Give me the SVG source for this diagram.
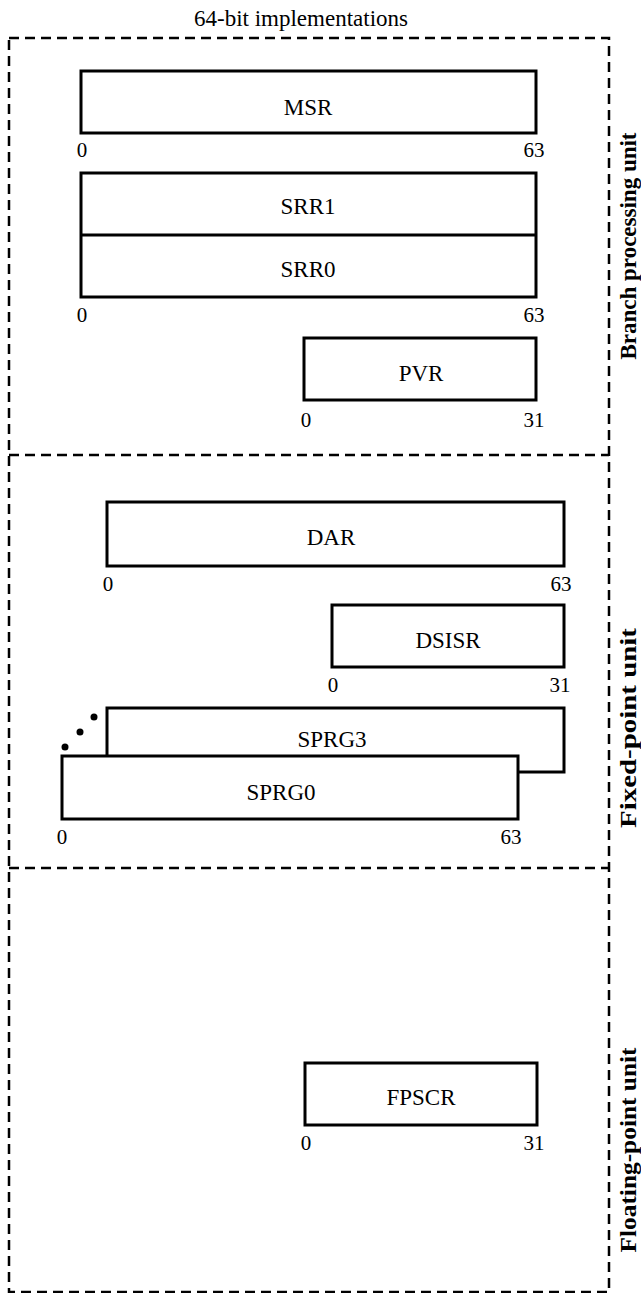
<svg xmlns="http://www.w3.org/2000/svg" width="641" height="1293" viewBox="0 0 641 1293">
<style>
.frame{fill:none;stroke:#000;stroke-width:2.5;stroke-dasharray:10 6}
.reg{fill:#fff;stroke:#000;stroke-width:3}
.name{font-family:"Liberation Serif",serif;font-size:23px;text-anchor:middle;fill:#000}
.bit{font-family:"Liberation Serif",serif;font-size:21px;text-anchor:middle;fill:#000}
.unit{font-family:"Liberation Serif",serif;font-size:23px;font-weight:bold;text-anchor:middle;fill:#000}
.title{font-family:"Liberation Serif",serif;font-size:23px;text-anchor:middle;fill:#000}
</style>
<rect width="641" height="1293" fill="#fff"/>
<text class="title" x="301" y="26">64-bit implementations</text>
<g id="frames">
<rect class="frame" x="9" y="38" width="600" height="1254"/>
<line class="frame" x1="9" y1="455" x2="609" y2="455"/>
<line class="frame" x1="9" y1="868" x2="609" y2="868"/>
</g>
<g id="unit-labels">
<text class="unit" transform="translate(636,246) rotate(-90)">Branch processing unit</text>
<text class="unit" transform="translate(636,728) rotate(-90)" textLength="200" lengthAdjust="spacingAndGlyphs">Fixed-point unit</text>
<text class="unit" transform="translate(636,1150) rotate(-90)" textLength="205" lengthAdjust="spacingAndGlyphs">Floating-point unit</text>
</g>
<g id="MSR">
<rect class="reg" x="81" y="71" width="455" height="62"/>
<text class="name" x="308" y="115">MSR</text>
<text class="bit" x="82" y="157">0</text>
<text class="bit" x="534" y="157">63</text>
</g>
<g id="SRR">
<rect class="reg" x="81" y="173" width="455" height="124"/>
<line x1="81" y1="235" x2="536" y2="235" stroke="#000" stroke-width="3"/>
<text class="name" x="308" y="214">SRR1</text>
<text class="name" x="308" y="277">SRR0</text>
<text class="bit" x="82" y="322">0</text>
<text class="bit" x="534" y="322">63</text>
</g>
<g id="PVR">
<rect class="reg" x="304" y="338" width="232" height="62"/>
<text class="name" x="421" y="381">PVR</text>
<text class="bit" x="306" y="427">0</text>
<text class="bit" x="534" y="427">31</text>
</g>
<g id="DAR">
<rect class="reg" x="107" y="502" width="457" height="64"/>
<text class="name" x="331" y="545">DAR</text>
<text class="bit" x="108" y="591">0</text>
<text class="bit" x="561" y="591">63</text>
</g>
<g id="DSISR">
<rect class="reg" x="332" y="605" width="232" height="62"/>
<text class="name" x="448" y="648">DSISR</text>
<text class="bit" x="333" y="692">0</text>
<text class="bit" x="560" y="692">31</text>
</g>
<g id="SPRG3">
<rect class="reg" x="107" y="708" width="457" height="64"/>
<text class="name" x="332" y="747">SPRG3</text>
</g>
<g id="dots">
<circle cx="65" cy="747" r="3.5"/>
<circle cx="80" cy="732" r="3.5"/>
<circle cx="94" cy="717" r="3.5"/>
</g>
<g id="SPRG0">
<rect class="reg" x="62" y="756" width="456" height="63"/>
<text class="name" x="281" y="800">SPRG0</text>
<text class="bit" x="62" y="844">0</text>
<text class="bit" x="511" y="844">63</text>
</g>
<g id="FPSCR">
<rect class="reg" x="305" y="1063" width="232" height="62"/>
<text class="name" x="421" y="1105">FPSCR</text>
<text class="bit" x="306" y="1150">0</text>
<text class="bit" x="534" y="1150">31</text>
</g>
</svg>
